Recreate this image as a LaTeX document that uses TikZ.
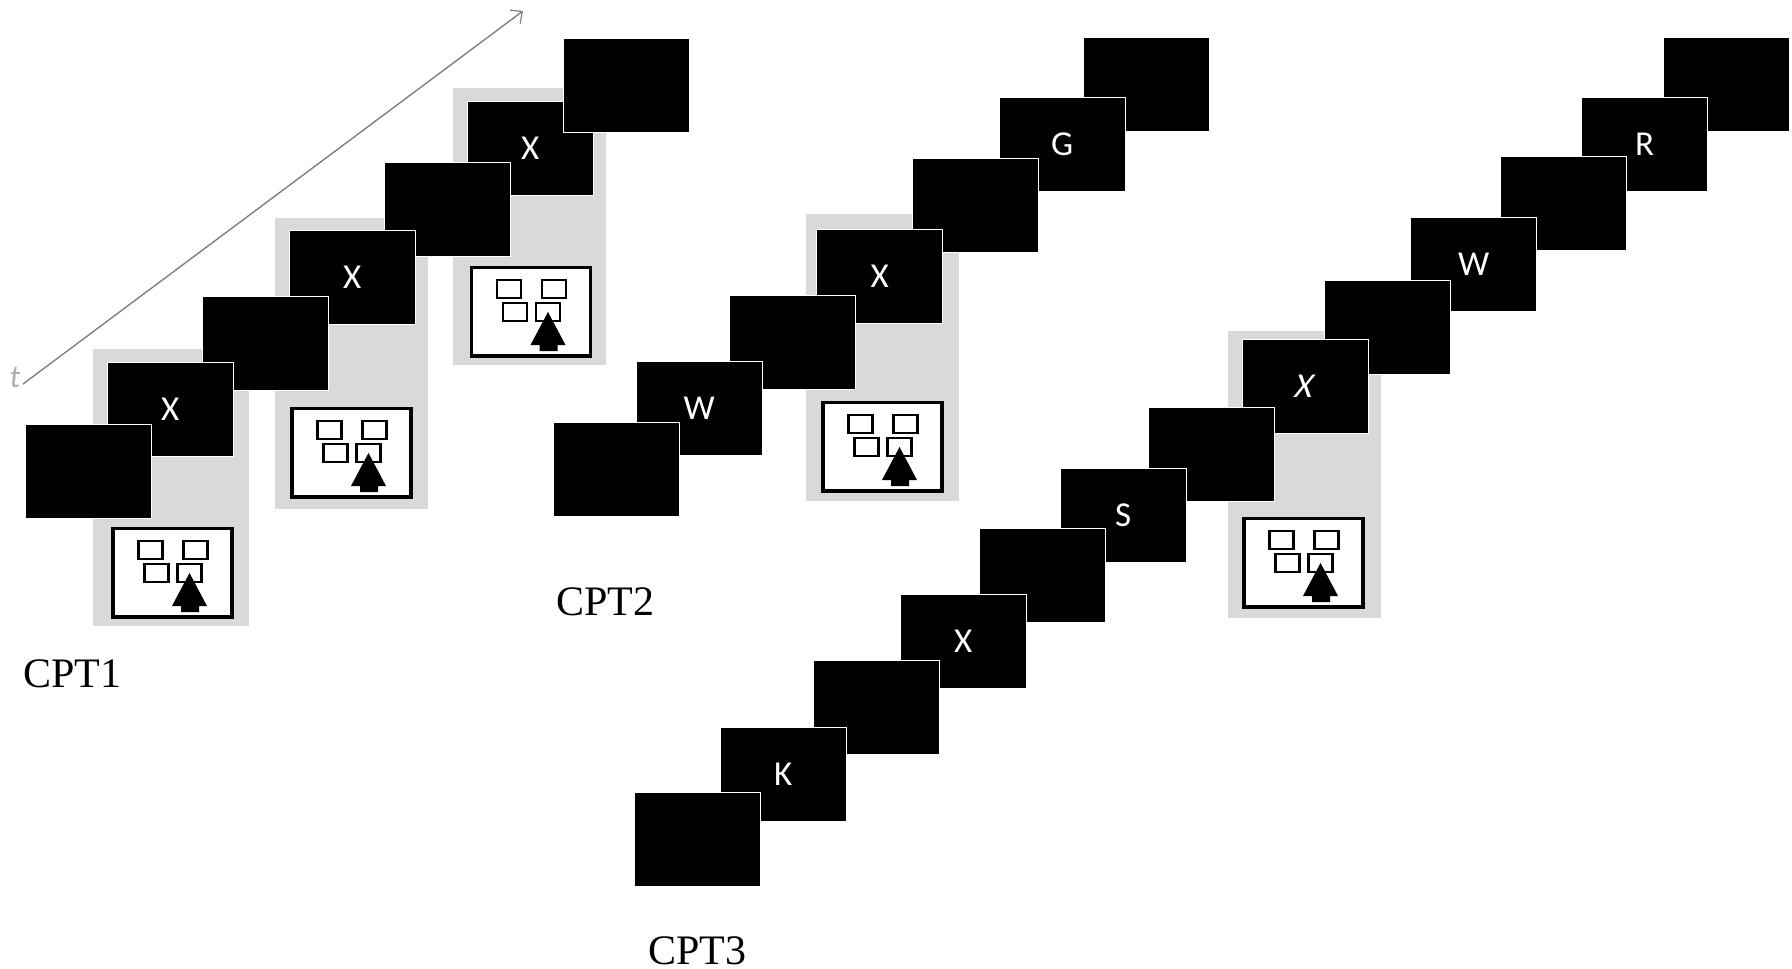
\documentclass[tikz,border=0pt]{standalone}
\usepackage{fontspec}
\setmainfont{Liberation Serif}
\newfontfamily\cardfont{Carlito}
\newfontface\cardslant[FakeSlant=0.22]{Carlito}
\usetikzlibrary{arrows.meta}
\definecolor{panelgray}{HTML}{D9D9D9}
\definecolor{axisgray}{HTML}{808080}
\definecolor{tgray}{HTML}{B0B0B0}
\tikzset{
  x=1pt,y=-1pt,
  card/.style={anchor=north west,xshift=-0.9pt,yshift=0.9pt,fill=black,draw=white,line width=1pt,inner sep=0pt,outer sep=0pt,
    minimum width=126pt,minimum height=94pt,text=white,
    font=\cardfont\fontsize{35}{35}\selectfont},
  panel/.style={fill=panelgray},
  cptlabel/.style={anchor=base west,inner sep=0pt,font=\fontsize{42}{42}\selectfont},
  keybox/.style={draw=black,fill=white,line width=2.4pt},
  pics/respbox/.style={code={
    \path[draw=black,fill=white,line width=3.2pt] (1,1.5) rectangle (120,90);
    \path[keybox] (26.5,14) rectangle (50.5,32);
    \path[keybox] (71.5,14) rectangle (95.5,32);
    \path[keybox] (32.5,37) rectangle (56.5,55);
    \path[keybox] (65.5,37) rectangle (89.5,55);
    \fill[black] (77.5,46) -- (95,79) -- (87,79) -- (87,85) -- (69,85) -- (69,79) -- (60,79) -- cycle;
  }}
}
\begin{document}
\begin{tikzpicture}
\useasboundingbox[fill=white] (0,0) rectangle (1792,969);
% time axis
\coordinate (tstart) at (23,384);
\coordinate (tend) at (523,11);
\draw[axisgray,line width=1.4pt,-{Straight Barb[length=9pt,width=17pt,line width=1.2pt]}] (tstart) -- (tend);
\node[anchor=base,inner sep=0pt,text=tgray,font=\cardfont\itshape\fontsize{32}{32}\selectfont] (tlabel) at (15,387) {t};
% CPT1
\path[panel] (453,88) rectangle (606,365);
\node[card] (a6) at (468,102.5) {X};
\pic at (470.5,266) {respbox};
\node[card] (a7) at (564,39) {};
\path[panel] (275,218) rectangle (428,509);
\node[card] (a5) at (385,163.5) {};
\node[card] (a4) at (290,231.5) {X};
\pic at (291,407) {respbox};
\path[panel] (93,349) rectangle (249,626);
\node[card] (a3) at (203,297.5) {};
\node[card] (a2) at (108,363.5) {X};
\pic at (112,527) {respbox};
\node[card] (a1) at (26,425.5) {};
\node[cptlabel] (cpt1) at (23,687) {CPT1};
% CPT2
\node[card] (b7) at (1084.5,38) {};
\node[card] (b6) at (1000,98) {G};
\path[panel] (806,214) rectangle (959,501);
\node[card] (b5) at (913,159.5) {};
\node[card] (b4) at (817.5,230) {X};
\pic at (822,401) {respbox};
\node[card] (b3) at (730.5,296) {};
\node[card] (b2) at (637,362.5) {W};
\node[card] (b1) at (554.5,423) {};
\node[cptlabel] (cpt2) at (556,615) {CPT2};
% CPT3
\node[card] (c13) at (1664.5,38) {};
\node[card] (c12) at (1582.5,98) {R};
\node[card] (c11) at (1501.5,157) {};
\node[card] (c10) at (1411.5,218) {W};
\path[panel] (1228,331) rectangle (1381,618);
\node[card] (c9) at (1325,281) {};
\node[card] (c8) at (1243,340.5) {\cardslant\hspace{-6pt}X};
\pic at (1243,517) {respbox};
\node[card] (c7) at (1149,408.5) {};
\node[card] (c6) at (1061,469) {S};
\node[card] (c5) at (980,529.5) {};
\node[card] (c4) at (901,595.5) {X};
\node[card] (c3) at (814,661) {};
\node[card] (c2) at (721,728) {K};
\node[card] (c1) at (635,793) {};
\node[cptlabel] (cpt3) at (648,964) {CPT3};
\end{tikzpicture}
\end{document}
